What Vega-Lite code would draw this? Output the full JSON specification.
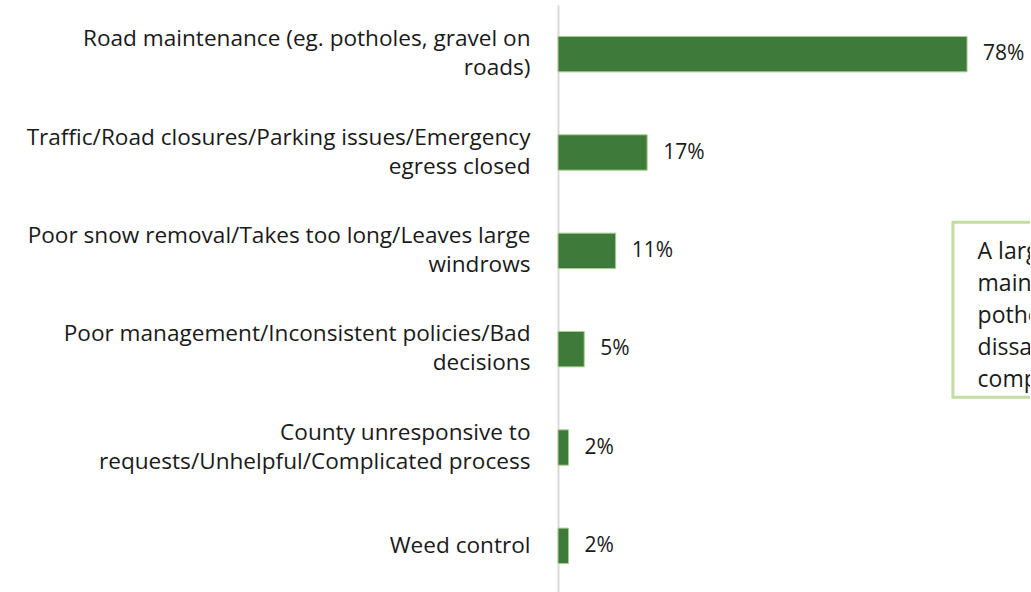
{
  "$schema": "https://vega.github.io/schema/vega-lite/v6.json",
  "width": 472,
  "height": 590,
  "autosize": {"type": "none"},
  "padding": {"left": 558, "top": 5, "right": 0, "bottom": 0},
  "background": "white",
  "config": {"view": {"stroke": null}, "font": "Open Sans"},
  "layer": [
    {
      "data": {
        "values": [
          {"cause": "Road maintenance (eg. potholes, gravel on|roads)", "pct": 0.78},
          {"cause": "Traffic/Road closures/Parking issues/Emergency|egress closed", "pct": 0.17},
          {"cause": "Poor snow removal/Takes too long/Leaves large|windrows", "pct": 0.11},
          {"cause": "Poor management/Inconsistent policies/Bad|decisions", "pct": 0.05},
          {"cause": "County unresponsive to|requests/Unhelpful/Complicated process", "pct": 0.02},
          {"cause": "Weed control", "pct": 0.02}
        ]
      },
      "encoding": {
        "y": {
          "field": "cause",
          "type": "nominal",
          "sort": null,
          "scale": {"paddingInner": 0.64, "paddingOuter": 0.32},
          "axis": {
            "title": null,
            "domain": true,
            "domainColor": "#d9d9d9",
            "domainWidth": 2,
            "ticks": false,
            "grid": false,
            "labelPadding": 28,
            "labelFontSize": 22.6,
            "labelFont": "Open Sans",
            "labelColor": "#1a1a1a",
            "labelLimit": 700,
            "labelLineHeight": 29,
            "labelOffset": {"condition": {"test": "indexof(datum.label, '|') >= 0", "value": -15}, "value": 0},
            "labelExpr": "split(datum.label, '|')"
          }
        },
        "x": {
          "field": "pct",
          "type": "quantitative",
          "scale": {"domain": [0, 0.89]},
          "axis": null
        }
      },
      "layer": [
        {"mark": {"type": "bar", "color": "#3e7b3a", "stroke": "#a9cf92", "strokeWidth": 1}},
        {
          "mark": {"type": "text", "align": "left", "baseline": "middle", "dx": 16, "fontSize": 21, "font": "Open Sans", "color": "#1a1a1a"},
          "encoding": {"text": {"field": "pct", "type": "quantitative", "format": ".0%"}}
        }
      ]
    },
    {
      "data": {
        "values": [
          {"x": 0.753, "x2": 1.0, "y": 2.21, "y2": 3.99, "ty": 2.58, "tx": 0.80,
           "note": "A large majority of comments about road\nmaintenance mention\npotholes as the main source of\ndissatisfaction, followed by\ncomplaints about traffic."}
        ]
      },
      "layer": [
        {
          "mark": {"type": "rect", "fill": "white", "stroke": "#c5dca3", "strokeWidth": 3},
          "encoding": {
            "x": {"field": "x", "type": "quantitative"},
            "x2": {"field": "x2"},
            "y": {"field": "y", "type": "quantitative", "scale": {"domain": [0, 6], "reverse": true}, "axis": null},
            "y2": {"field": "y2"}
          }
        },
        {
          "mark": {"type": "text", "align": "left", "baseline": "alphabetic", "fontSize": 23, "font": "Open Sans", "color": "#1a1a1a", "lineBreak": "\n", "lineHeight": 32},
          "encoding": {
            "x": {"field": "tx", "type": "quantitative"},
            "y": {"field": "ty", "type": "quantitative", "scale": {"domain": [0, 6], "reverse": true}, "axis": null},
            "text": {"field": "note"}
          }
        }
      ]
    }
  ],
  "resolve": {"scale": {"y": "independent"}}
}
